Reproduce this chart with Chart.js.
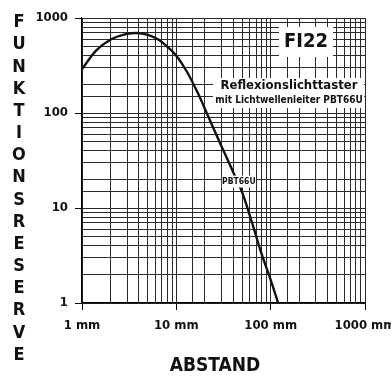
<!DOCTYPE html>
<html>
<head>
<meta charset="utf-8">
<script src="https://cdn.jsdelivr.net/npm/chart.js@4.4.0/dist/chart.umd.min.js"></script>
<style>
  html, body { margin: 0; padding: 0; background: #fff; overflow: hidden; }
</style>
</head>
<body>
<canvas id="chart" width="391" height="378"></canvas>
<script>
// curve (distance in mm -> Funktionsreserve)
const distances = [1, 1.4, 2, 3, 3.8, 5, 6.5, 8, 10, 13, 17, 22, 30, 40, 50, 65, 80, 100, 120];
const reserve = [290, 450, 590, 680, 695, 665, 590, 500, 400, 270, 160, 90, 45, 24, 14.5, 6.5, 3.3, 1.75, 1];
const xDecades = [1, 10, 100, 1000];
const yDecades = [1, 10, 100, 1000];
const xUnit = ' mm';
const yTitle = 'FUNKTIONSRESERVE';
const xTitle = 'ABSTAND';
const badge = 'FI22';
const subtitle = ['Reflexionslichttaster', 'mit Lichtwellenleiter PBT66U'];
const seriesName = 'PBT66U';

const FONT = "'Liberation Sans Narrow', 'DejaVu Sans Condensed', 'Liberation Sans', sans-serif";

const isDecade = v => {
  if (!v) return false;
  const l = Math.log10(v);
  return Math.abs(l - Math.round(l)) < 1e-6;
};

const textPlugin = {
  id: 'texts',
  beforeDatasetsDraw(chart) {
    const ctx = chart.ctx;
    ctx.save();
    ctx.fillStyle = '#fff';
    ctx.fillRect(279, 27, 54, 30);
    ctx.fillRect(213, 78, 151, 30);
    ctx.fillStyle = '#111';
    ctx.textAlign = 'center';
    ctx.textBaseline = 'middle';
    ctx.font = 'bold 20px ' + FONT;
    ctx.fillText(badge, 306, 42);
    ctx.font = 'bold 13px ' + FONT;
    ctx.fillText(subtitle[0], 289, 86);
    ctx.font = 'bold 10px ' + FONT;
    ctx.fillText(subtitle[1], 289, 100);
    ctx.restore();
  },
  afterDatasetsDraw(chart) {
    const { ctx, scales: { x, y } } = chart;
    ctx.save();
    // series label sits on top of the curve
    const px = x.getPixelForValue(46), py = y.getPixelForValue(19);
    ctx.fillStyle = '#fff';
    ctx.fillRect(px - 17, py - 6, 34, 12);
    ctx.fillStyle = '#111';
    ctx.textAlign = 'center';
    ctx.textBaseline = 'middle';
    ctx.font = 'bold 8.5px ' + FONT;
    ctx.fillText(seriesName, px, py);

    // stacked y title
    ctx.font = 'bold 18px ' + FONT;
    for (let i = 0; i < yTitle.length; i++) {
      ctx.fillText(yTitle[i], 19, 22.5 + i * 22.17);
    }
    ctx.font = 'bold 19px ' + FONT;
    ctx.fillText(xTitle, 215, 366);
    ctx.restore();
  }
};

const tickFont = { family: FONT, weight: 'bold', size: 13 };

new Chart(document.getElementById('chart'), {
  type: 'line',
  data: {
    datasets: [{
      label: seriesName,
      data: distances.map((d, i) => ({ x: d, y: reserve[i] })),
      borderColor: '#111',
      borderWidth: 2.4,
      pointRadius: 0,
      fill: false,
      cubicInterpolationMode: 'monotone'
    }]
  },
  options: {
    responsive: false,
    animation: false,
    layout: { padding: { top: 18, right: 26, bottom: 0, left: 0 } },
    plugins: { legend: { display: false }, tooltip: { enabled: false } },
    scales: {
      x: {
        type: 'logarithmic',
        min: 1,
        max: 1000,
        border: { display: true, color: '#000', width: 1.2 },
        grid: {
          color: '#2a2a2a',
          lineWidth: 1,
          tickLength: 7,
          tickColor: c => isDecade(c.tick && c.tick.value) ? '#000' : 'rgba(0,0,0,0)'
        },
        ticks: {
          autoSkip: false,
          maxRotation: 0,
          padding: 8,
          color: '#111',
          font: tickFont,
          callback: v => xDecades.includes(Math.round(v)) && isDecade(v) ? Math.round(v) + xUnit : ''
        },
        afterFit: s => { s.height = 75; s.paddingLeft = 0; s.paddingRight = 0; }
      },
      y: {
        type: 'logarithmic',
        min: 1,
        max: 1000,
        border: { display: true, color: '#000', width: 1.2 },
        grid: {
          color: '#2a2a2a',
          lineWidth: 1,
          tickLength: 7,
          tickColor: c => isDecade(c.tick && c.tick.value) ? '#000' : 'rgba(0,0,0,0)'
        },
        ticks: {
          autoSkip: false,
          padding: 7,
          color: '#111',
          font: tickFont,
          callback: v => yDecades.includes(Math.round(v)) && isDecade(v) ? String(Math.round(v)) : ''
        },
        afterFit: s => { s.width = 82; s.paddingTop = 0; s.paddingBottom = 0; }
      }
    }
  },
  plugins: [textPlugin]
});
</script>
</body>
</html>
